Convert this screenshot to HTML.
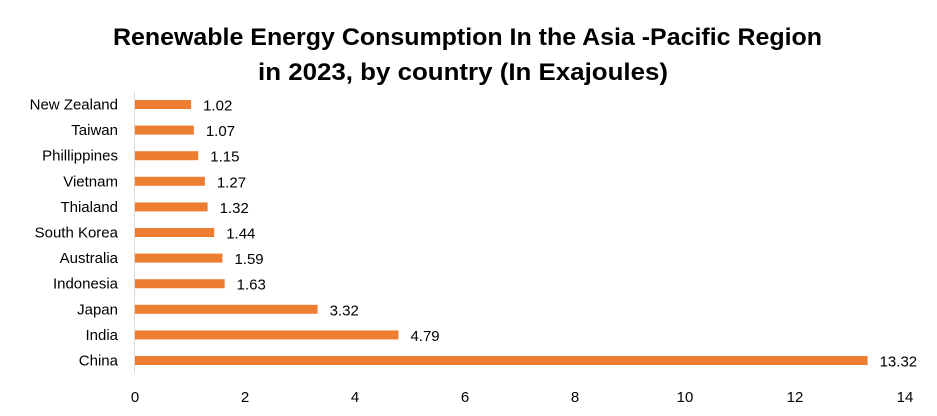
<!DOCTYPE html>
<html><head><meta charset="utf-8"><style>
body{margin:0;background:#fff;}
svg text{font-family:"Liberation Sans",sans-serif;fill:#000;}
</style></head><body>
<svg width="937" height="411" id="chart">
<text x="113" y="45" font-size="24" font-weight="bold" textLength="709" lengthAdjust="spacingAndGlyphs">Renewable Energy Consumption In the Asia -Pacific Region</text>
<text x="258" y="80" font-size="24" font-weight="bold" textLength="410" lengthAdjust="spacingAndGlyphs">in 2023, by country (In Exajoules)</text>
<line x1="134.5" y1="92" x2="134.5" y2="373" stroke="#d9d9d9"/>
</svg>
<script>
const categories=["New Zealand","Taiwan","Phillippines","Vietnam","Thialand","South Korea","Australia","Indonesia","Japan","India","China"];
const values=[1.02,1.07,1.15,1.27,1.32,1.44,1.59,1.63,3.32,4.79,13.32];
const labels=["1.02","1.07","1.15","1.27","1.32","1.44","1.59","1.63","3.32","4.79","13.32"];
const ticks=[0,2,4,6,8,10,12,14];
const svg=document.getElementById('chart');
const NS='http://www.w3.org/2000/svg';
const x=v=>135+v*55;
const y=i=>104.5+i*25.6;
function mk(t,a){const e=document.createElementNS(NS,t);for(const k in a)e.setAttribute(k,a[k]);svg.appendChild(e);return e;}
categories.forEach((c,i)=>{
  const r=mk('rect',{x:x(0),y:y(i)-4.5,width:x(values[i])-x(0),height:9,fill:'#ED7D31'});
  
  
  const t=mk('text',{x:118,y:y(i)+5,'text-anchor':'end','font-size':15});
  t.textContent=c;
  
  
  const v=mk('text',{x:x(values[i])+12,y:y(i)+6,'font-size':15});
  v.textContent=labels[i];
  
  
});
ticks.forEach(t=>{
  const e=mk('text',{x:x(t),y:402,'text-anchor':'middle','font-size':15});
  e.textContent=t;
  
  
});
</script>
</body></html>
